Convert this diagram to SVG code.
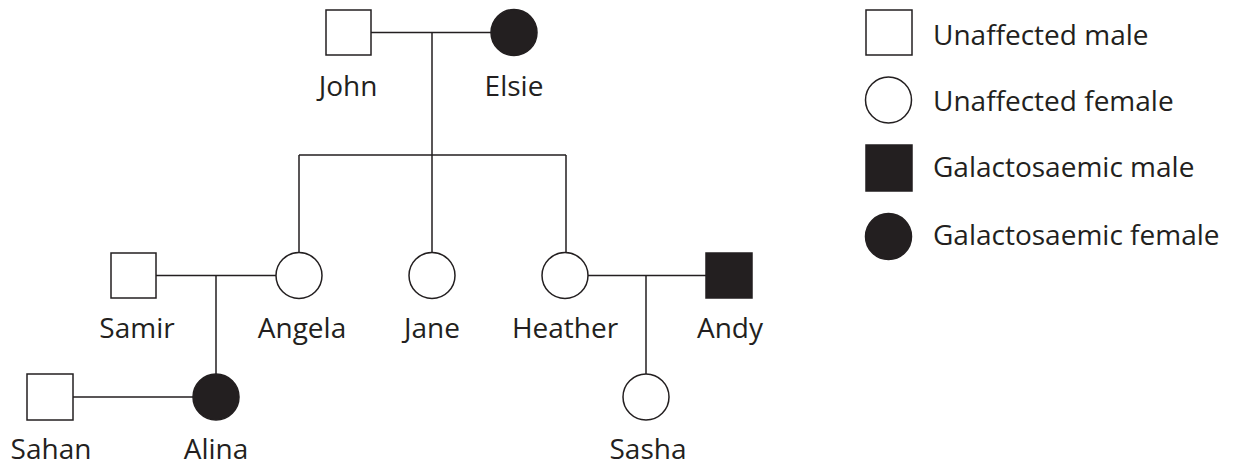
<svg xmlns="http://www.w3.org/2000/svg" width="1243" height="469" viewBox="0 0 1243 469">
<style>
.o{fill:#fff;stroke:#231f20;stroke-width:1.5}
.f{fill:#231f20;stroke:#231f20;stroke-width:1.5}
.l{stroke:#231f20;stroke-width:1.5;fill:none}
text{font-family:"Open Sans","Noto Sans","Liberation Sans",sans-serif;font-size:28px;fill:#231f20}
.c{text-anchor:middle}
</style>
<rect width="1243" height="469" fill="#fff"/>
<g id="connectors">
<path class="l" d="M371,32.5H491M432,32.5V155M299,155H566M299,155V253M432,155V253M566,155V253M156,275.5H276M216,275.5V374M588,275.5H706M646,275.5V374M73,397H193"/>
</g>
<g id="john"><rect class="o" x="326" y="10" width="45" height="45"/><text class="c" x="348" y="96">John</text></g>
<g id="elsie"><circle class="f" cx="514" cy="32.5" r="23"/><text class="c" x="514" y="96">Elsie</text></g>
<g id="samir"><rect class="o" x="111" y="253" width="45" height="45"/><text class="c" x="137" y="338">Samir</text></g>
<g id="angela"><circle class="o" cx="299" cy="275.5" r="23"/><text class="c" x="302" y="338">Angela</text></g>
<g id="jane"><circle class="o" cx="432" cy="275.5" r="23"/><text class="c" x="432" y="338">Jane</text></g>
<g id="heather"><circle class="o" cx="565" cy="275.5" r="23"/><text class="c" x="565" y="338">Heather</text></g>
<g id="andy"><rect class="f" x="706" y="253" width="46" height="45"/><text class="c" x="730" y="338">Andy</text></g>
<g id="sahan"><rect class="o" x="27" y="374" width="46" height="46"/><text class="c" x="51" y="459">Sahan</text></g>
<g id="alina"><circle class="f" cx="216" cy="397" r="23"/><text class="c" x="216" y="459">Alina</text></g>
<g id="sasha"><circle class="o" cx="646" cy="397" r="23"/><text class="c" x="648" y="459">Sasha</text></g>
<g id="legend">
<rect class="o" x="866" y="10" width="46" height="45"/><text x="933" y="45">Unaffected male</text>
<circle class="o" cx="888.5" cy="100" r="23"/><text x="933" y="111">Unaffected female</text>
<rect class="f" x="866" y="145" width="46" height="46"/><text x="933" y="177">Galactosaemic male</text>
<circle class="f" cx="888.5" cy="236.5" r="23"/><text x="933" y="245">Galactosaemic female</text>
</g>
</svg>
